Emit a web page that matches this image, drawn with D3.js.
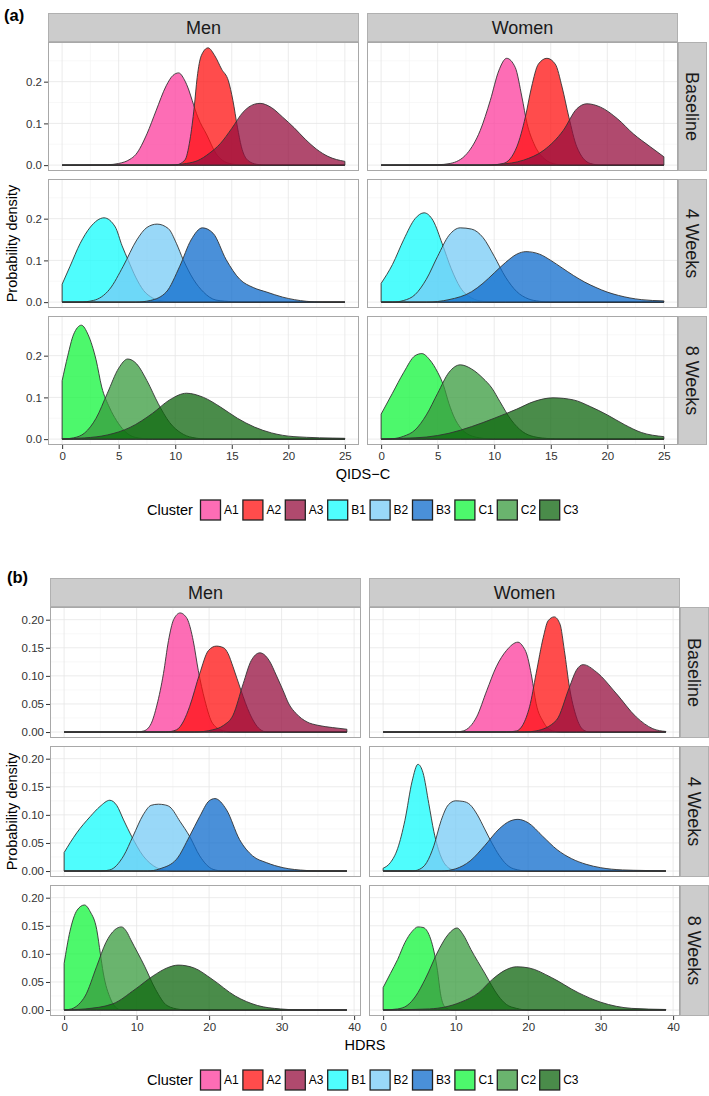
<!DOCTYPE html>
<html>
<head>
<meta charset="utf-8">
<script src="https://cdn.jsdelivr.net/npm/d3@7"></script>
<style>
  body { margin: 0; background: #fff; }
  svg { display: block; font-family: "Liberation Sans", Arial, Helvetica, sans-serif; }
</style>
</head>
<body>
<div id="chart"></div>
<script>
// categories
var clusters = ["A1", "A2", "A3", "B1", "B2", "B3", "C1", "C2", "C3"];
var genders = ["Men", "Women"];
var timepoints = ["Baseline", "4 Weeks", "8 Weeks"];

// tick labels
var qidsTicksX = [0, 5, 10, 15, 20, 25];
var qidsTicksY = [0, 0.1, 0.2];
var hdrsTicksX = [0, 10, 20, 30, 40];
var hdrsTicksY = [0, 0.05, 0.10, 0.15, 0.20];

// densities, [score, density]
// (a) QIDS-C
var qMenBase = {
  A1: [[0,0],[4,0.001],[5,0.004],[6,0.014],[6.5,0.025],[7.5,0.075],[8.3,0.13],[9.2,0.19],[9.8,0.215],[10.3,0.221],[10.8,0.205],[11.2,0.18],[11.5,0.155],[12,0.115],[12.8,0.072],[13.6,0.028],[14.8,0.004],[16,0],[25,0]],
  A2: [[0,0],[10,0],[10.85,0.012],[11.3,0.06],[11.68,0.139],[11.94,0.21],[12.3,0.262],[12.9,0.281],[13.5,0.262],[14.1,0.23],[14.7,0.202],[15.1,0.155],[15.5,0.091],[15.85,0.044],[16.4,0.012],[17.2,0.002],[18,0],[25,0]],
  A3: [[0,0],[9,0],[10,0.001],[11,0.004],[12,0.011],[13,0.028],[14,0.052],[15,0.088],[16,0.127],[17,0.146],[17.5,0.148],[18.5,0.138],[19.5,0.115],[20.5,0.09],[21.5,0.062],[22.5,0.038],[23.5,0.021],[25,0.009]]
};
var qWomenBase = {
  A1: [[0,0],[5,0.001],[6.1,0.004],[7.6,0.028],[8.76,0.083],[9.65,0.155],[10.4,0.226],[11.1,0.256],[11.86,0.234],[12.45,0.163],[12.9,0.1],[13.5,0.052],[14.4,0.016],[15.5,0.002],[16.5,0],[25,0]],
  A2: [[0,0],[9.5,0],[10.8,0.004],[12,0.044],[12.75,0.115],[13.3,0.187],[13.9,0.242],[14.66,0.256],[15.4,0.242],[16,0.187],[16.6,0.115],[17.3,0.044],[18.5,0.004],[19.5,0],[25,0]],
  A3: [[0,0],[9,0],[10.5,0.002],[12.6,0.012],[14.4,0.036],[16.1,0.083],[17.3,0.135],[18.2,0.147],[19.4,0.139],[20.9,0.111],[22.3,0.075],[23.8,0.044],[25,0.02]]
};
var qMenW4 = {
  B1: [[0,0.043],[0.7,0.086],[1.6,0.141],[2.5,0.18],[3.7,0.202],[4.7,0.18],[5.3,0.135],[5.85,0.1],[6.5,0.06],[7.2,0.028],[8,0.01],[9,0.002],[10,0],[25,0]],
  B2: [[0,0],[1.5,0],[2.76,0.004],[4.2,0.031],[5.4,0.086],[6.6,0.149],[7.5,0.179],[8.4,0.187],[9.4,0.176],[10.1,0.141],[10.7,0.102],[11.6,0.055],[12.5,0.024],[13.6,0.005],[15.1,0.001],[16,0],[25,0]],
  B3: [[0,0],[6.5,0],[7.8,0.004],[9.2,0.024],[10.4,0.086],[11.4,0.149],[12.4,0.178],[13.35,0.165],[14.5,0.102],[15.7,0.055],[16.9,0.035],[18.1,0.024],[19.5,0.012],[21.6,0.002],[23,0],[25,0]]
};
var qWomenW4 = {
  B1: [[0,0.045],[1,0.09],[2,0.15],[3,0.2],[3.8,0.214],[4.6,0.195],[5.4,0.14],[6.2,0.08],[7,0.035],[8,0.01],[9,0.002],[10,0],[25,0]],
  B2: [[0,0],[1,0],[2,0.004],[3,0.018],[4,0.055],[5,0.11],[6,0.16],[7,0.178],[8,0.175],[9,0.155],[10,0.11],[11,0.06],[12,0.025],[13,0.008],[14,0.002],[15,0],[25,0]],
  B3: [[0,0],[4,0],[6,0.006],[8,0.025],[9,0.045],[10,0.07],[11,0.095],[12,0.115],[12.8,0.121],[14,0.115],[15,0.1],[16,0.082],[17,0.064],[18,0.048],[19,0.035],[20,0.024],[21,0.016],[22,0.01],[23,0.006],[25,0.003]]
};
var qMenW8 = {
  C1: [[0,0.14],[0.5,0.2],[1,0.25],[1.7,0.273],[2.3,0.25],[3,0.19],[3.5,0.125],[4.2,0.075],[4.8,0.045],[5.5,0.02],[6.5,0.004],[8,0],[25,0]],
  C2: [[0,0],[1,0.003],[2,0.015],[3,0.05],[4,0.11],[5,0.17],[5.8,0.192],[6.6,0.18],[7.5,0.14],[8.5,0.085],[9.5,0.04],[10.5,0.015],[11.5,0.004],[13,0],[25,0]],
  C3: [[0,0.001],[2,0.003],[4,0.01],[6,0.028],[8,0.062],[9.5,0.094],[11,0.11],[12.5,0.1],[14,0.077],[15.5,0.05],[17,0.029],[18.5,0.015],[20.5,0.006],[25,0.002]]
};
var qWomenW8 = {
  C1: [[0,0.06],[1,0.11],[2,0.16],[3,0.2],[3.6,0.205],[4.3,0.19],[5,0.16],[5.5,0.13],[6,0.085],[6.5,0.05],[7,0.028],[7.8,0.01],[9,0.002],[10,0],[25,0]],
  C2: [[0,0],[1,0.001],[2,0.007],[3,0.022],[4,0.058],[5,0.11],[6,0.16],[7,0.178],[8,0.168],[9,0.146],[9.8,0.122],[10.5,0.09],[11.5,0.046],[12.5,0.018],[13.5,0.006],[15,0.001],[16,0],[25,0]],
  C3: [[0,0],[2,0.002],[4,0.005],[6,0.014],[8,0.03],[10,0.05],[12,0.072],[13.5,0.09],[15.2,0.099],[17,0.094],[18.5,0.078],[20,0.058],[21.5,0.035],[23,0.016],[25,0.006]]
};

// (b) HDRS
var hMenBase = {
  A1: [[0,0],[10,0],[11,0.002],[12,0.015],[12.8,0.048],[13.7,0.104],[14.4,0.163],[15.1,0.2],[16,0.212],[16.6,0.208],[17.1,0.198],[17.8,0.163],[18.5,0.11],[19.4,0.057],[20.5,0.015],[22,0.002],[23,0],[39,0]],
  A2: [[0,0],[14,0],[15.5,0.004],[16.5,0.02],[17.3,0.045],[18.7,0.104],[19.9,0.145],[21,0.153],[22,0.15],[22.6,0.14],[23.3,0.116],[24.4,0.074],[25.6,0.033],[27,0.005],[28,0],[39,0]],
  A3: [[0,0],[18,0],[20.5,0.004],[22,0.012],[23.3,0.03],[24.7,0.086],[25.8,0.127],[27,0.141],[28.3,0.127],[29.3,0.1],[30.2,0.074],[31,0.05],[32,0.033],[33.5,0.018],[35,0.012],[37,0.008],[39,0.005]]
};
var hWomenBase = {
  A1: [[0,0],[10,0],[11.05,0.002],[12.9,0.027],[14.3,0.074],[15.6,0.116],[17,0.145],[18.6,0.16],[19.3,0.152],[19.8,0.139],[20.5,0.098],[21.1,0.051],[22.1,0.018],[23.4,0.002],[24.5,0],[39,0]],
  A2: [[0,0],[17,0],[18.4,0.002],[20.2,0.045],[21.1,0.104],[22.1,0.169],[22.75,0.198],[23.6,0.205],[24.4,0.192],[25,0.145],[25.7,0.08],[26.65,0.027],[27.6,0.004],[28.5,0],[39,0]],
  A3: [[0,0],[19.5,0],[21.1,0.002],[23.9,0.021],[25.7,0.08],[26.65,0.11],[27.6,0.12],[29.4,0.107],[32.2,0.068],[34.9,0.027],[37.2,0.006],[39,0.001]]
};
var hMenW4 = {
  B1: [[0,0.033],[1.74,0.068],[3.6,0.097],[4.95,0.115],[6.3,0.126],[7.25,0.117],[8.2,0.091],[9.3,0.062],[10.9,0.027],[12.75,0.006],[14.1,0.001],[15,0],[39,0]],
  B2: [[0,0],[5,0],[6.3,0.002],[8.2,0.027],[9.5,0.062],[10.9,0.1],[12,0.117],[13,0.119],[13.8,0.118],[14.6,0.114],[16,0.088],[17.3,0.062],[18.7,0.027],[20.55,0.003],[22,0],[39,0]],
  B3: [[0,0],[11.5,0],[13.2,0.004],[15.5,0.021],[17.3,0.062],[18.7,0.097],[20,0.125],[20.8,0.129],[22.4,0.109],[24.2,0.056],[26,0.027],[27.9,0.015],[30.2,0.006],[33.4,0.001],[35,0],[39,0]]
};
var hWomenW4 = {
  B1: [[0,0.005],[1,0.015],[2,0.04],[3,0.09],[4,0.16],[4.8,0.19],[5.5,0.175],[6.3,0.12],[7,0.07],[8,0.025],[9,0.006],[10,0.001],[11,0],[39,0]],
  B2: [[0,0],[4,0],[5,0.003],[6,0.015],[7,0.045],[8,0.09],[9,0.118],[10,0.125],[11,0.124],[12,0.118],[13,0.1],[14,0.075],[15,0.05],[16,0.028],[17,0.012],[18,0.004],[20,0],[39,0]],
  B3: [[0,0],[8,0],[10,0.004],[12,0.018],[14,0.045],[16,0.075],[17.5,0.089],[18.6,0.092],[20,0.086],[22,0.062],[24,0.038],[26,0.022],[28,0.012],[30,0.006],[33,0.002],[36,0.001],[39,0]]
};
var hMenW8 = {
  C1: [[0,0.083],[0.8,0.14],[1.8,0.178],[2.8,0.187],[3.6,0.175],[4.5,0.143],[5,0.1],[5.4,0.066],[6.4,0.02],[7.3,0.003],[8,0],[39,0]],
  C2: [[0,0],[1,0.002],[2,0.01],[2.9,0.025],[4.5,0.078],[5.75,0.12],[7,0.143],[7.9,0.148],[8.6,0.14],[9.2,0.125],[11.1,0.078],[12.6,0.037],[14.2,0.008],[16,0.001],[17,0],[39,0]],
  C3: [[0,0],[2.9,0.002],[6.7,0.011],[9.8,0.037],[12.3,0.061],[14.2,0.075],[15.75,0.08],[17.9,0.075],[20.4,0.055],[23.6,0.025],[26.7,0.008],[29.8,0.002],[33,0],[39,0]]
};
var hWomenW8 = {
  C1: [[0,0.04],[1,0.065],[2,0.09],[3,0.12],[4,0.14],[4.8,0.148],[5.5,0.147],[6.1,0.14],[7,0.105],[7.5,0.07],[7.9,0.03],[8.5,0.006],[9.5,0],[39,0]],
  C2: [[0,0],[2,0.002],[3.3,0.008],[4.5,0.025],[5.8,0.055],[7.7,0.108],[9,0.135],[10.2,0.146],[11,0.135],[12.1,0.108],[14,0.066],[15.9,0.025],[17,0.01],[18.4,0.003],[20,0],[39,0]],
  C3: [[0,0],[6.4,0.002],[10.7,0.014],[13.2,0.031],[15.1,0.055],[17,0.072],[18.4,0.077],[20.1,0.075],[23.2,0.058],[26.9,0.031],[30,0.014],[34.3,0.003],[39,0.001]]
};

// fill colours (drawn with alpha)
var fillColors = ["#fc3c9c", "#ff1010", "#950d3d", "#14fcfc", "#77cbf5", "#0d6bcc", "#12f63b", "#389b3d", "#0d660d"];
var fillAlpha = 0.75;
var color = d3.scaleOrdinal().domain(clusters).range(fillColors);

var W = 709, H = 1096;
var svg = d3.select("#chart").append("svg")
  .attr("width", W)
  .attr("height", H);

var parts = [
  {
    label: "(a)", labelX: 4, labelY: 21,
    stripTop: 13, stripH: 29, panelTop: 42, panelH: 129, gap: 8,
    lefts: [48, 367], panelW: 311,
    xMax: 25, ticksX: qidsTicksX, ticksY: qidsTicksY, fmtY: d3.format(".1f"),
    title: "QIDS\u2212C", titleY: 479, legendY: 510,
    rows: [[qMenBase, qWomenBase], [qMenW4, qWomenW4], [qMenW8, qWomenW8]]
  },
  {
    label: "(b)", labelX: 7, labelY: 583,
    stripTop: 578, stripH: 29, panelTop: 607, panelH: 131, gap: 8,
    lefts: [50, 369], panelW: 311,
    xMax: 39, ticksX: hdrsTicksX, ticksY: hdrsTicksY, fmtY: d3.format(".2f"),
    title: "HDRS", titleY: 1050, legendY: 1080,
    rows: [[hMenBase, hWomenBase], [hMenW4, hWomenW4], [hMenW8, hWomenW8]]
  }
];

function minorOf(ticks, domain) {
  var step = ticks[1] - ticks[0];
  var m = [ticks[0] - step / 2].concat(ticks.map(function (t) { return t + step / 2; }));
  return m.filter(function (v) { return v > domain[0] && v < domain[1]; });
}

parts.forEach(function (p) {
  // y max over all curves of the part
  var yMax = d3.max(p.rows, function (row) {
    return d3.max(row, function (panel) {
      return d3.max(Object.keys(panel), function (k) {
        return d3.max(panel[k], function (d) { return d[1]; });
      });
    });
  });
  var xDom = [-0.05 * p.xMax, 1.05 * p.xMax];
  var yDom = [-0.05 * yMax, 1.05 * yMax];
  var minorX = minorOf(p.ticksX, xDom);
  var minorY = minorOf(p.ticksY, yDom);

  // part label
  svg.append("text")
    .attr("x", p.labelX).attr("y", p.labelY)
    .style("font-size", "16.5px").style("font-weight", "bold")
    .text(p.label);

  // column strips
  genders.forEach(function (g, c) {
    var sx = p.lefts[c];
    svg.append("rect")
      .attr("x", sx + 0.5).attr("y", p.stripTop + 0.5)
      .attr("width", p.panelW - 1).attr("height", p.stripH - 1)
      .attr("fill", "#cccccc").attr("stroke", "#b0b0b0");
    svg.append("text")
      .attr("x", sx + p.panelW / 2).attr("y", p.stripTop + p.stripH / 2)
      .attr("dy", "0.36em").attr("text-anchor", "middle")
      .style("font-size", "18px").attr("fill", "#1a1a1a")
      .text(g);
  });

  timepoints.forEach(function (tp, r) {
    var top = p.panelTop + r * (p.panelH + p.gap);
    var y = d3.scaleLinear().domain(yDom).range([top + p.panelH, top]);

    // row strip
    var rx = p.lefts[1] + p.panelW;
    svg.append("rect")
      .attr("x", rx + 0.5).attr("y", top + 0.5)
      .attr("width", 28).attr("height", p.panelH - 1)
      .attr("fill", "#cccccc").attr("stroke", "#b0b0b0");
    svg.append("text")
      .attr("transform", "translate(" + (rx + 14.5) + "," + (top + p.panelH / 2) + ") rotate(90)")
      .attr("dy", "0.36em").attr("text-anchor", "middle")
      .style("font-size", "18px").attr("fill", "#1a1a1a")
      .text(tp);

    genders.forEach(function (g, c) {
      var left = p.lefts[c];
      var x = d3.scaleLinear().domain(xDom).range([left, left + p.panelW]);
      var panel = svg.append("g");

      panel.append("rect")
        .attr("x", left).attr("y", top)
        .attr("width", p.panelW).attr("height", p.panelH)
        .attr("fill", "#fff");

      // grid
      panel.selectAll(".gxm").data(minorX).enter().append("line")
        .attr("x1", function (d) { return x(d); }).attr("x2", function (d) { return x(d); })
        .attr("y1", top).attr("y2", top + p.panelH)
        .attr("stroke", "#f4f4f4").attr("stroke-width", 0.6);
      panel.selectAll(".gym").data(minorY).enter().append("line")
        .attr("y1", function (d) { return y(d); }).attr("y2", function (d) { return y(d); })
        .attr("x1", left).attr("x2", left + p.panelW)
        .attr("stroke", "#f4f4f4").attr("stroke-width", 0.6);
      panel.selectAll(".gx").data(p.ticksX).enter().append("line")
        .attr("x1", function (d) { return x(d); }).attr("x2", function (d) { return x(d); })
        .attr("y1", top).attr("y2", top + p.panelH)
        .attr("stroke", "#e6e6e6").attr("stroke-width", 0.8);
      panel.selectAll(".gy").data(p.ticksY).enter().append("line")
        .attr("y1", function (d) { return y(d); }).attr("y2", function (d) { return y(d); })
        .attr("x1", left).attr("x2", left + p.panelW)
        .attr("stroke", "#e6e6e6").attr("stroke-width", 0.8);

      // densities
      var curves = p.rows[r][c];
      var area = d3.area()
        .x(function (d) { return x(d[0]); })
        .y0(y(0))
        .y1(function (d) { return y(d[1]); })
        .curve(d3.curveMonotoneX);
      Object.keys(curves).forEach(function (k) {
        panel.append("path")
          .datum(curves[k])
          .attr("d", area)
          .attr("fill", color(k))
          .attr("fill-opacity", fillAlpha)
          .attr("stroke", "#333")
          .attr("stroke-width", 0.9)
          .attr("stroke-linejoin", "round");
      });

      panel.append("rect")
        .attr("x", left + 0.5).attr("y", top + 0.5)
        .attr("width", p.panelW - 1).attr("height", p.panelH - 1)
        .attr("fill", "none").attr("stroke", "#a8a8a8");

      // y axis on left column
      if (c === 0) {
        svg.append("g")
          .attr("transform", "translate(" + left + ",0)")
          .call(d3.axisLeft(y).tickValues(p.ticksY).tickFormat(p.fmtY).tickSize(4).tickPadding(2))
          .call(function (ax) {
            ax.select(".domain").remove();
            ax.selectAll("line").attr("stroke", "#333");
            ax.selectAll("text").attr("fill", "#333").style("font-size", "11.5px").style("font-family", null);
          });
      }
      // x axis on bottom row
      if (r === timepoints.length - 1) {
        svg.append("g")
          .attr("transform", "translate(0," + (top + p.panelH) + ")")
          .call(d3.axisBottom(x).tickValues(p.ticksX).tickSize(4).tickPadding(3))
          .call(function (ax) {
            ax.select(".domain").remove();
            ax.selectAll("line").attr("stroke", "#333");
            ax.selectAll("text").attr("fill", "#333").style("font-size", "11.5px").style("font-family", null);
          });
      }
    });
  });

  // axis titles
  var plotBottom = p.panelTop + 3 * p.panelH + 2 * p.gap;
  svg.append("text")
    .attr("x", (p.lefts[0] + p.lefts[1] + p.panelW) / 2).attr("y", p.titleY)
    .attr("text-anchor", "middle").style("font-size", "14.5px")
    .text(p.title);
  svg.append("text")
    .attr("transform", "translate(" + 17 + "," + ((p.panelTop + plotBottom) / 2) + ") rotate(-90)")
    .attr("text-anchor", "middle").style("font-size", "14.5px")
    .text("Probability density");

  // legend
  var lg = svg.append("g").attr("transform", "translate(0," + p.legendY + ")");
  lg.append("text").attr("x", 147).attr("dy", "0.36em")
    .style("font-size", "14.5px").text("Cluster");
  var items = lg.selectAll(".item").data(clusters).enter().append("g")
    .attr("transform", function (d, i) { return "translate(" + (200 + i * 42.4) + ",0)"; });
  items.append("rect")
    .attr("x", 0.5).attr("y", -10)
    .attr("width", 20).attr("height", 20)
    .attr("fill", function (d) { return color(d); })
    .attr("fill-opacity", fillAlpha)
    .attr("stroke", "#222").attr("stroke-width", 1.3);
  items.append("text")
    .attr("x", 24).attr("dy", "0.36em")
    .style("font-size", "12px")
    .text(function (d) { return d; });
});
</script>
</body>
</html>
